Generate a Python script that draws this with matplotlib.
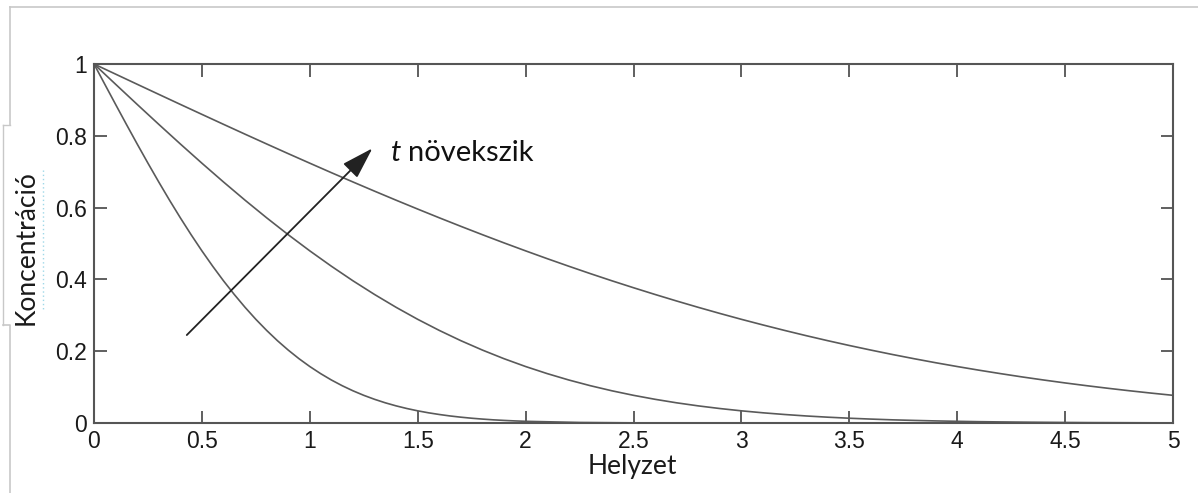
"""Koncentráció a helyzet függvényében, három időpontban (t növekszik)"""

import matplotlib
matplotlib.use("Agg")
from matplotlib import pyplot as plt
from matplotlib.lines import Line2D

# Positions along the x axis (Helyzet)
helyzet = [0.0, 0.1, 0.2, 0.3, 0.4, 0.5, 0.6, 0.7, 0.8, 0.9,
           1.0, 1.1, 1.2, 1.3, 1.4, 1.5, 1.6, 1.7, 1.8, 1.9,
           2.0, 2.1, 2.2, 2.3, 2.4, 2.5, 2.6, 2.7, 2.8, 2.9,
           3.0, 3.1, 3.2, 3.3, 3.4, 3.5, 3.6, 3.7, 3.8, 3.9,
           4.0, 4.1, 4.2, 4.3, 4.4, 4.5, 4.6, 4.7, 4.8, 4.9, 5.0]

# the steep (short time) curve is read at a finer spacing
helyzet_t1 = [0.0, 0.05, 0.1, 0.15, 0.2, 0.25, 0.3, 0.35, 0.4, 0.45,
              0.5, 0.55, 0.6, 0.65, 0.7, 0.75, 0.8, 0.85, 0.9, 0.95,
              1.0, 1.05, 1.1, 1.15, 1.2, 1.25, 1.3, 1.35, 1.4, 1.45,
              1.5, 1.55, 1.6, 1.65, 1.7, 1.75, 1.8, 1.85, 1.9, 1.95,
              2.0, 2.25, 2.5, 3.0, 4.0, 5.0]

# Concentration profiles (short, medium, long time)
konc_t1 = [1.0, 0.9436, 0.8875, 0.8320, 0.7773, 0.7237, 0.6714, 0.6206, 0.5716, 0.5245,
           0.4795, 0.4367, 0.3961, 0.3580, 0.3222, 0.2888, 0.2579, 0.2293, 0.2031, 0.1791,
           0.1573, 0.1376, 0.1198, 0.1039, 0.0897, 0.0771, 0.0660, 0.0562, 0.0477, 0.0403,
           0.0339, 0.0284, 0.0237, 0.0196, 0.0162, 0.0133, 0.0109, 0.0088, 0.0072, 0.0058,
           0.0047, 0.0015, 0.0004, 0.0, 0.0, 0.0]
konc_t2 = [1.0, 0.9436, 0.8875, 0.8320, 0.7773, 0.7237, 0.6714, 0.6206, 0.5716, 0.5245,
           0.4795, 0.4367, 0.3961, 0.3580, 0.3222, 0.2888, 0.2579, 0.2293, 0.2031, 0.1791,
           0.1573, 0.1376, 0.1198, 0.1039, 0.0897, 0.0771, 0.0660, 0.0562, 0.0477, 0.0403,
           0.0339, 0.0284, 0.0237, 0.0196, 0.0162, 0.0133, 0.0109, 0.0088, 0.0072, 0.0058,
           0.0047, 0.0037, 0.0030, 0.0024, 0.0019, 0.0015, 0.0011, 0.0009, 0.0007, 0.0005, 0.0004]
konc_t3 = [1.0, 0.9718, 0.9436, 0.9155, 0.8875, 0.8597, 0.8320, 0.8045, 0.7773, 0.7503,
           0.7237, 0.6973, 0.6714, 0.6458, 0.6206, 0.5959, 0.5716, 0.5478, 0.5245, 0.5017,
           0.4795, 0.4578, 0.4367, 0.4161, 0.3961, 0.3768, 0.3580, 0.3398, 0.3222, 0.3052,
           0.2888, 0.2731, 0.2579, 0.2433, 0.2293, 0.2159, 0.2031, 0.1908, 0.1791, 0.1679,
           0.1573, 0.1472, 0.1376, 0.1284, 0.1198, 0.1116, 0.1039, 0.0966, 0.0897, 0.0832, 0.0771]

x_ticks = [0, 0.5, 1, 1.5, 2, 2.5, 3, 3.5, 4, 4.5, 5]
x_tick_labels = ["0", "0.5", "1", "1.5", "2", "2.5", "3", "3.5", "4", "4.5", "5"]
y_ticks = [0, 0.2, 0.4, 0.6, 0.8, 1]
y_tick_labels = ["0", "0.2", "0.4", "0.6", "0.8", "1"]

fig = plt.figure(figsize=(11.98, 4.93), dpi=100)
ax = fig.add_axes([94 / 1198, 1 - 423 / 493, (1173 - 94) / 1198, (423 - 64) / 493])

ax.plot(helyzet_t1, konc_t1, color="#5a5a5a", linewidth=1.2)
ax.plot(helyzet, konc_t2, color="#5a5a5a", linewidth=1.2)
ax.plot(helyzet, konc_t3, color="#5a5a5a", linewidth=1.2)

ax.set_xlim(0, 5)
ax.set_ylim(0, 1)
ax.set_xticks(x_ticks)
ax.set_xticklabels(x_tick_labels, family="Liberation Sans", fontsize=16.5, color="#1a1a1a")
ax.set_yticks(y_ticks)
ax.set_yticklabels(y_tick_labels, family="Liberation Sans", fontsize=16.5, color="#1a1a1a")
ax.tick_params(direction="in", length=9, width=1.2, color="#444444",
               top=True, right=True, pad=5)
for spine in ax.spines.values():
    spine.set_color("#555555")
    spine.set_linewidth(1.5)

ax.set_xlabel("Helyzet", family="Lato", fontsize=19, color="#1a1a1a",
              va="center", ha="center")
ax.xaxis.set_label_coords(0.4986, -0.122)
ax.set_ylabel("Koncentráció", family="Lato", fontsize=19, color="#1a1a1a",
              va="center", ha="center")
ax.yaxis.set_label_coords(-0.063, 0.49)

# arrow showing increasing time
ax.annotate("", xy=(1.29, 0.765), xytext=(0.43, 0.245),
            arrowprops=dict(arrowstyle="-|>,head_length=0.9,head_width=0.28",
                            color="#222222", lw=1.3,
                            mutation_scale=22, shrinkA=0, shrinkB=0))
ax.text(1.375, 0.752, "t", family="Lato", style="italic", fontsize=21, color="#111111",
        va="center", ha="left")
ax.text(1.455, 0.752, "növekszik", family="Lato", fontsize=21, color="#111111",
        va="center", ha="left")

# faint frame remains around the picture
grey = "#c8c8c8"
fig.add_artist(Line2D([10 / 1198, 1], [1 - 7 / 493, 1 - 7 / 493], color=grey, lw=1.2))
fig.add_artist(Line2D([10 / 1198, 10 / 1198], [1 - 7 / 493, 1 - 125 / 493], color=grey, lw=1.2))
fig.add_artist(Line2D([3 / 1198, 10 / 1198], [1 - 125 / 493, 1 - 125 / 493], color=grey, lw=1.0))
fig.add_artist(Line2D([3 / 1198, 3 / 1198], [1 - 125 / 493, 1 - 325 / 493], color=grey, lw=1.0))
fig.add_artist(Line2D([3 / 1198, 10 / 1198, 10 / 1198], [1 - 325 / 493, 1 - 325 / 493, 0],
                      color=grey, lw=1.2))
fig.add_artist(Line2D([43 / 1198, 43 / 1198], [1 - 170 / 493, 1 - 310 / 493],
                      color="#9fd8e8", lw=1.0, linestyle=(0, (1, 2))))

fig.savefig("out.png", dpi=100)
